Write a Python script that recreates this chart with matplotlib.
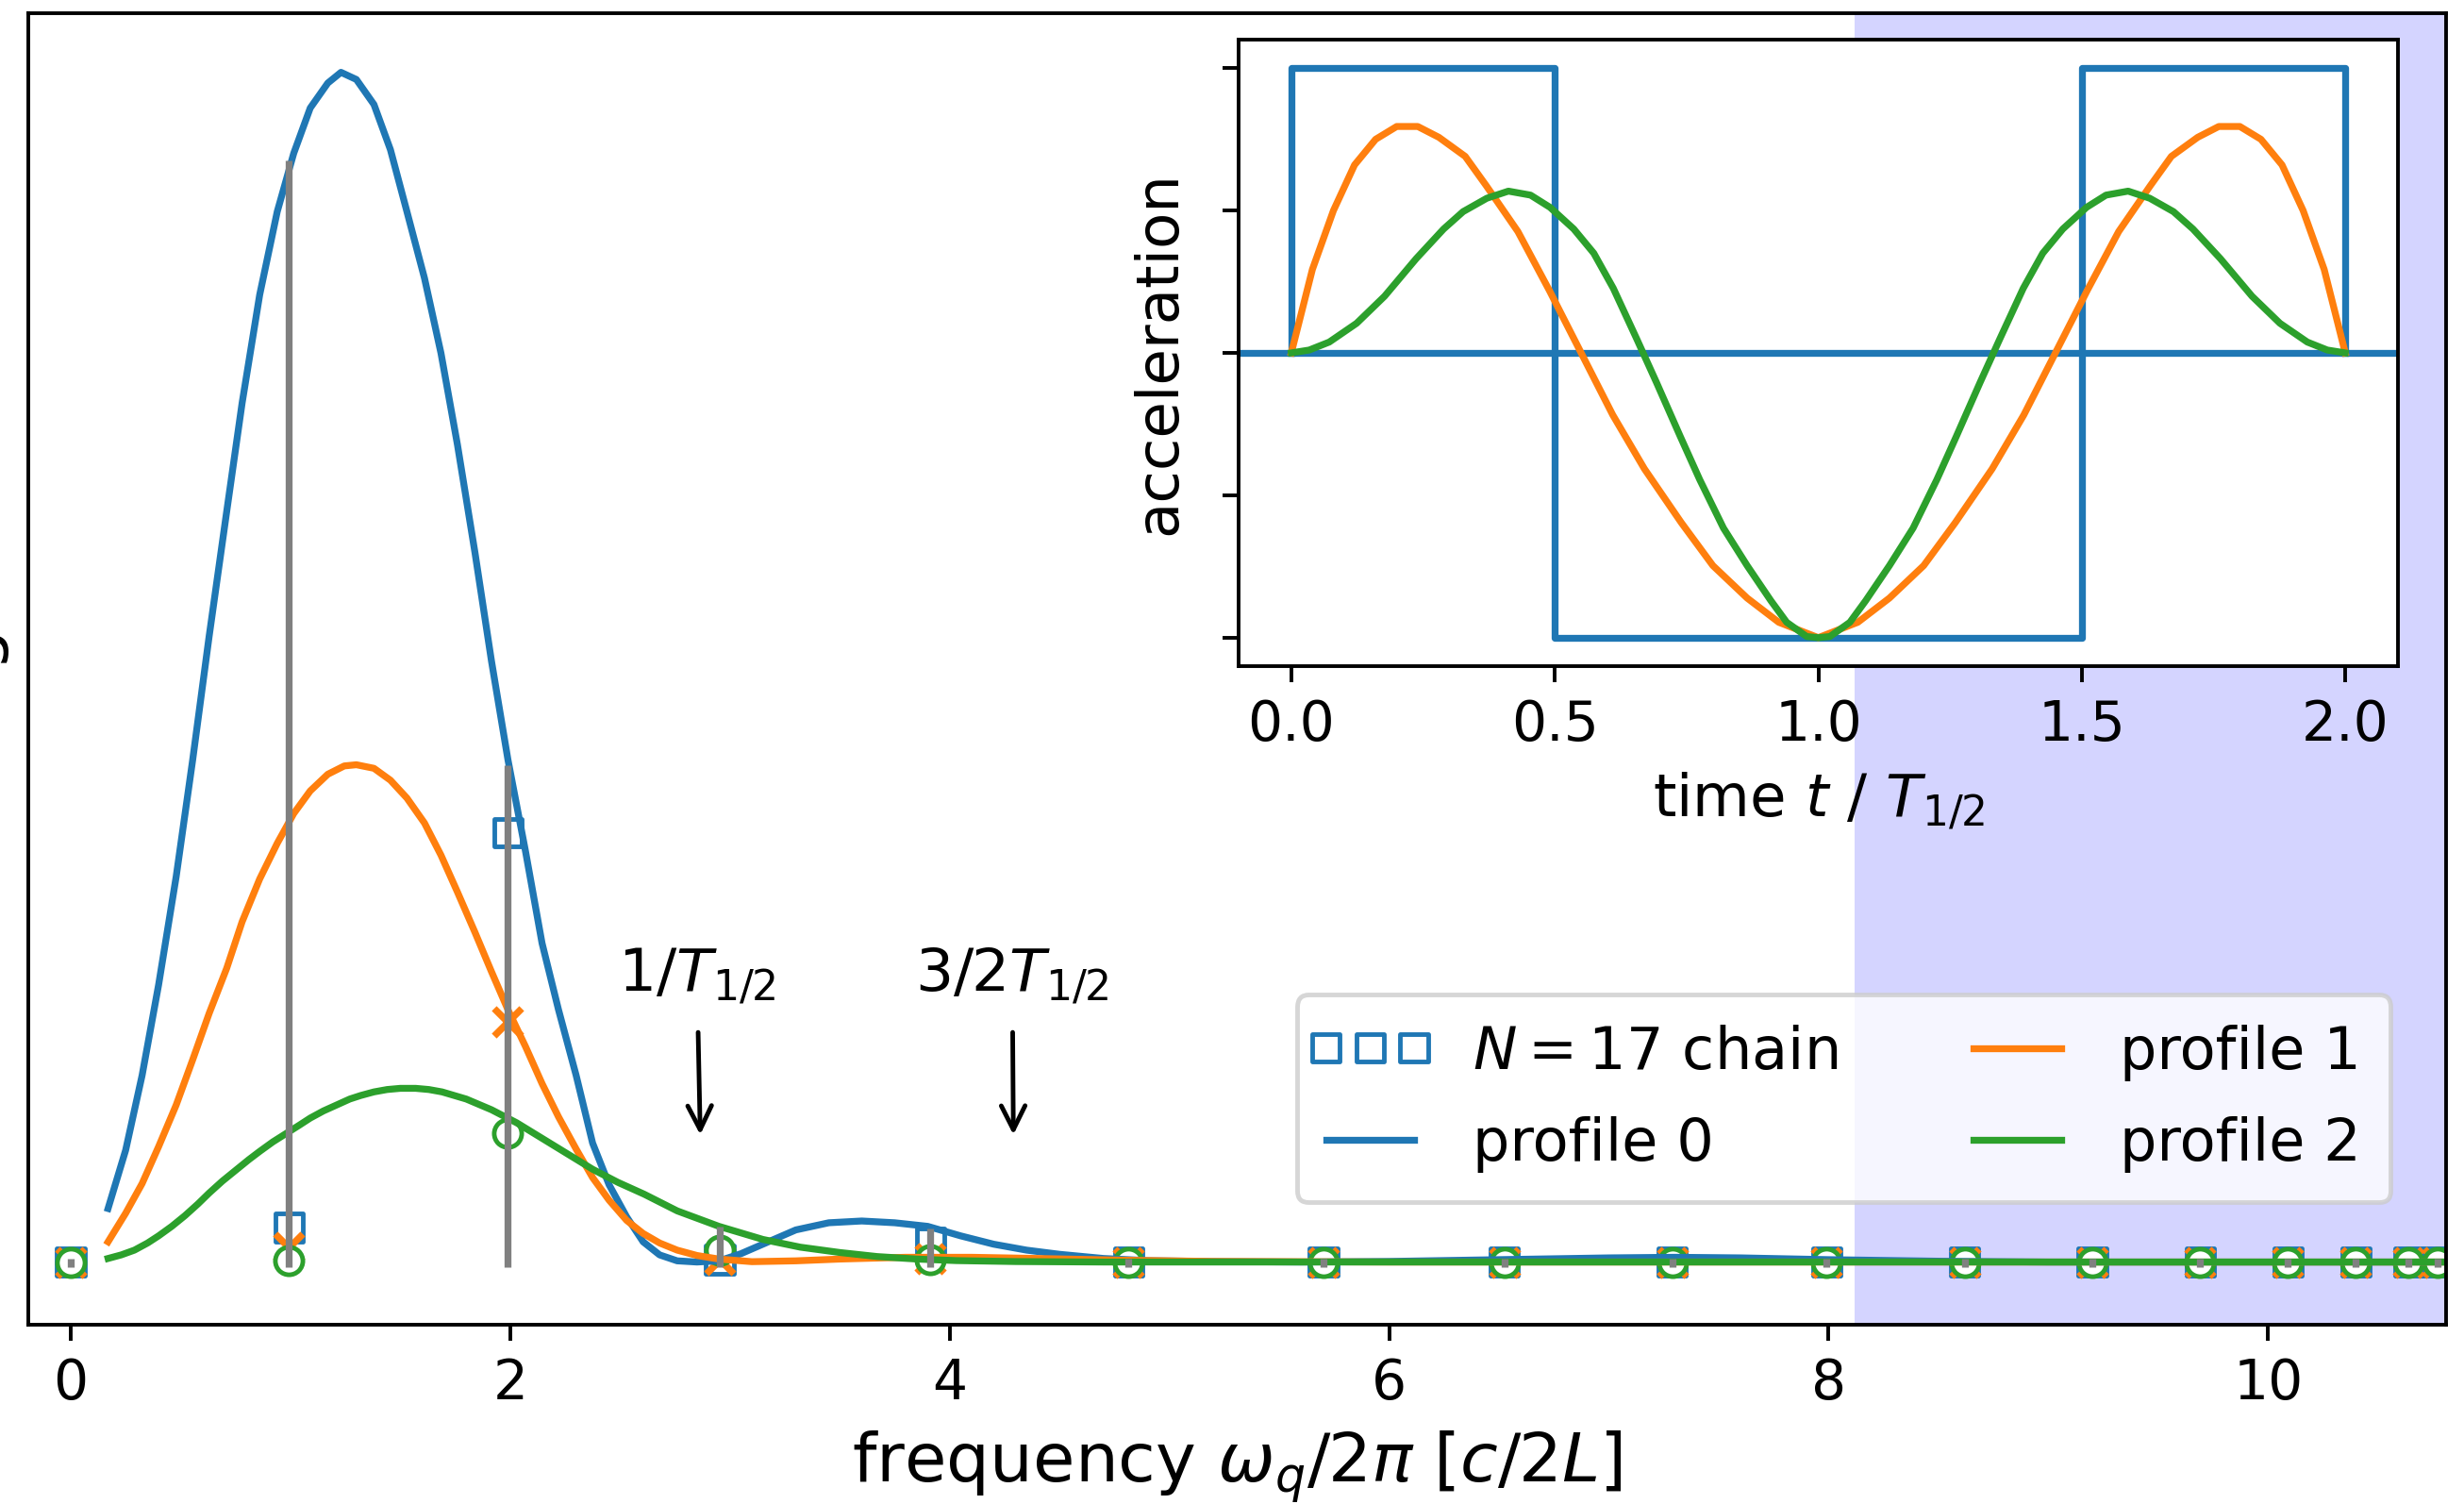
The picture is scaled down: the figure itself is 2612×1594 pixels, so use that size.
import numpy as np
import matplotlib
matplotlib.use('Agg')
from matplotlib import pyplot as plt
from matplotlib.collections import PathCollection
from matplotlib.legend_handler import HandlerPathCollection

plt.rcParams['font.size'] = 12
plt.rcParams['axes.labelsize'] = 'large'

# chain eigenfrequencies and mode weights for the three drive profiles
chain_freq = [0.0, 0.994, 1.989, 2.954, 3.913, 4.814, 5.701, 6.524, 7.289,
              7.990, 8.62, 9.20, 9.69, 10.09, 10.40, 10.64, 10.77]
chain_p0 = [0.0, 0.029, 0.361, 0.002, 0.017, 0.0, 0.0, 0.0, 0.0,
            0.0, 0.0, 0.0, 0.0, 0.0, 0.0, 0.0, 0.0]
chain_p1 = [0.0, 0.012, 0.202, 0.002, 0.003, 0.0, 0.0, 0.0, 0.0,
            0.0, 0.0, 0.0, 0.0, 0.0, 0.0, 0.0, 0.0]
chain_p2 = [0.0, 0.001, 0.108, 0.010, 0.002, 0.0, 0.0, 0.0, 0.0,
            0.0, 0.0, 0.0, 0.0, 0.0, 0.0, 0.0, 0.0]
stem_top = [0.003, 0.926, 0.418, 0.030, 0.028, 0.003, 0.003, 0.003, 0.003,
            0.003, 0.003, 0.003, 0.003, 0.003, 0.003, 0.003, 0.003]
stem_bottom = -0.004

# continuum spectra
freq0 = [0.17, 0.25, 0.325, 0.40, 0.48, 0.555, 0.63, 0.71, 0.78, 0.86, 0.94,
         1.015, 1.09, 1.17, 1.23, 1.30, 1.38, 1.455, 1.53, 1.61, 1.685, 1.76,
         1.84, 1.915, 1.99, 2.07, 2.145, 2.22, 2.30, 2.375, 2.45, 2.53, 2.605,
         2.68, 2.76, 2.85, 2.95, 3.05, 3.15, 3.3, 3.45, 3.6, 3.75, 3.9, 4.05,
         4.2, 4.35, 4.5, 4.7, 4.9, 5.2, 5.6, 6.0, 6.5, 7.0, 7.3, 7.6, 8.0, 8.5,
         9.0, 10.0, 10.9]
spec0 = [0.045, 0.094, 0.157, 0.233, 0.324, 0.422, 0.526, 0.631, 0.722, 0.813,
         0.883, 0.932, 0.970, 0.991, 1.0, 0.994, 0.973, 0.935, 0.883, 0.827,
         0.764, 0.687, 0.596, 0.505, 0.422, 0.345, 0.268, 0.212, 0.157, 0.100,
         0.065, 0.038, 0.017, 0.006, 0.001, 0.0, 0.001, 0.007, 0.015, 0.027,
         0.033, 0.0345, 0.033, 0.030, 0.022, 0.015, 0.010, 0.0065, 0.003,
         0.0012, 0.0004, 0.0, 0.0005, 0.002, 0.0035, 0.004, 0.0035, 0.002,
         0.0007, 0.0, 0.0, 0.0]

freq1 = [0.17, 0.25, 0.325, 0.40, 0.48, 0.555, 0.63, 0.71, 0.78, 0.86, 0.94,
         1.015, 1.09, 1.17, 1.245, 1.30, 1.38, 1.455, 1.53, 1.61, 1.685, 1.76,
         1.84, 1.915, 1.99, 2.07, 2.145, 2.22, 2.30, 2.375, 2.45, 2.53, 2.605,
         2.68, 2.76, 2.85, 2.95, 3.1, 3.3, 3.5, 3.8, 4.1, 4.4, 4.8, 5.2, 6.0,
         10.9]
spec1 = [0.017, 0.041, 0.066, 0.097, 0.132, 0.170, 0.209, 0.247, 0.286, 0.322,
         0.352, 0.377, 0.396, 0.410, 0.417, 0.418, 0.415, 0.405, 0.390, 0.369,
         0.342, 0.311, 0.277, 0.244, 0.212, 0.181, 0.150, 0.122, 0.095, 0.071,
         0.052, 0.035, 0.024, 0.016, 0.010, 0.0055, 0.0025, 0.0003, 0.001,
         0.0025, 0.004, 0.004, 0.003, 0.0015, 0.0005, 0.0, 0.0]

freq2 = [0.17, 0.23, 0.29, 0.35, 0.40, 0.46, 0.52, 0.58, 0.63, 0.69, 0.75,
         0.81, 0.86, 0.92, 0.98, 1.04, 1.09, 1.15, 1.21, 1.27, 1.32, 1.38,
         1.44, 1.50, 1.57, 1.63, 1.69, 1.80, 1.915, 2.03, 2.145, 2.26, 2.375,
         2.49, 2.61, 2.76, 2.95, 3.15, 3.32, 3.5, 3.67, 3.85, 4.03, 4.3, 4.7,
         10.9]
spec2 = [0.003, 0.006, 0.010, 0.016, 0.022, 0.030, 0.039, 0.049, 0.058, 0.068,
         0.077, 0.086, 0.093, 0.101, 0.108, 0.115, 0.121, 0.127, 0.132, 0.137,
         0.140, 0.143, 0.145, 0.146, 0.146, 0.145, 0.143, 0.137, 0.128, 0.117,
         0.104, 0.091, 0.078, 0.067, 0.057, 0.043, 0.030, 0.019, 0.0125,
         0.008, 0.0046, 0.0025, 0.0012, 0.0004, 0.0, 0.0]

# acceleration profiles over two half periods
t_sq = [0.0, 0.0, 0.5, 0.5, 1.5, 1.5, 2.0, 2.0]
acc_sq = [0.0, 1.0, 1.0, -1.0, -1.0, 1.0, 1.0, 0.0]

t_p1 = [0.0, 0.04, 0.08, 0.12, 0.16, 0.20, 0.24, 0.28, 0.33, 0.37, 0.43, 0.49,
        0.55, 0.61, 0.67, 0.74, 0.80, 0.865, 0.925, 1.0, 1.075, 1.135, 1.20,
        1.26, 1.33, 1.39, 1.45, 1.51, 1.57, 1.63, 1.67, 1.72, 1.76, 1.80,
        1.84, 1.88, 1.92, 1.96, 2.0]
acc_p1 = [0.0, 0.293, 0.50, 0.66, 0.75, 0.795, 0.795, 0.757, 0.69, 0.587,
          0.426, 0.218, 0.0, -0.218, -0.407, -0.596, -0.747, -0.861, -0.946,
          -1.0, -0.946, -0.861, -0.747, -0.596, -0.407, -0.218, 0.0, 0.218,
          0.426, 0.587, 0.69, 0.757, 0.795, 0.795, 0.75, 0.66, 0.50, 0.293,
          0.0]

t_p2 = [0.0, 0.034, 0.072, 0.124, 0.177, 0.237, 0.289, 0.326, 0.371, 0.412,
        0.454, 0.491, 0.536, 0.574, 0.611, 0.656, 0.693, 0.738, 0.775, 0.82,
        0.865, 0.91, 0.94, 0.978, 1.0, 1.022, 1.06, 1.09, 1.135, 1.18, 1.225,
        1.262, 1.307, 1.344, 1.389, 1.426, 1.464, 1.509, 1.546, 1.588, 1.629,
        1.674, 1.711, 1.763, 1.823, 1.876, 1.928, 1.966, 2.0]
acc_p2 = [0.0, 0.01, 0.038, 0.104, 0.199, 0.331, 0.435, 0.496, 0.543, 0.568,
          0.554, 0.511, 0.435, 0.35, 0.227, 0.047, -0.104, -0.293, -0.445,
          -0.615, -0.747, -0.87, -0.946, -0.996, -1.0, -0.996, -0.946, -0.87,
          -0.747, -0.615, -0.445, -0.293, -0.104, 0.047, 0.227, 0.35, 0.435,
          0.511, 0.554, 0.568, 0.543, 0.496, 0.435, 0.331, 0.199, 0.104,
          0.038, 0.01, 0.0]

fig = plt.figure(figsize=(2612/350, 1594/350), dpi=350)
ax = fig.add_axes([30/2612, 1-1404/1594, 2563/2612, 1390/1594])

ax.axvspan(8.12, 11.5, color='b', alpha=0.17, lw=0, zorder=0)

ax.scatter(chain_freq, chain_p0, marker='s', facecolors='none',
           edgecolors='C0', label=r'$N=17$ chain')
ax.scatter(chain_freq, chain_p1, marker='x', color='C1')
ax.scatter(chain_freq, chain_p2, marker='o', facecolors='w', edgecolors='C2')

ax.plot(freq0, spec0, color='C0', label='profile 0')
ax.plot(freq1, spec1, color='C1', label='profile 1')
ax.plot(freq2, spec2, color='C2', label='profile 2')

ax.vlines(chain_freq, stem_bottom, stem_top, color='grey', lw=1.5, zorder=3)

arrow = dict(arrowstyle='->', color='k', lw=1, shrinkA=3.7, shrinkB=0)
ax.annotate(r'$1/T_{1/2}$', xy=(2.865, 0.107), xytext=(2.85, 0.215),
            ha='center', va='bottom', fontsize=13, arrowprops=arrow)
ax.annotate(r'$3/2T_{1/2}$', xy=(4.29, 0.107), xytext=(4.285, 0.215),
            ha='center', va='bottom', fontsize=13, arrowprops=arrow)

ax.set_xlim(-0.193, 10.81)
ax.set_ylim(-0.0527, 1.0497)
ax.set_yticks([])
ax.set_xticks([0, 2, 4, 6, 8, 10])
ax.set_xlabel(r'frequency $\omega_q/2\pi$ [$c/2L$]', fontsize=14.9)
ax.set_ylabel('weight')
ax.yaxis.set_label_coords(-0.009, 0.5)

ax.legend(ncol=2, loc='lower right', bbox_to_anchor=(0.977, 0.0935),
          borderaxespad=0, borderpad=0.5, scatterpoints=3,
          scatteryoffsets=[0.5], fontsize=12.8, labelspacing=0.6,
          handlelength=1.5, handletextpad=1.0, columnspacing=2.3,
          handler_map={PathCollection: HandlerPathCollection(marker_pad=0)})

# inset with the acceleration profiles
ins = fig.add_axes([1313/2612, 1-706/1594, 1229/2612, 664/1594])
ins.set_facecolor('w')
ins.axhline(0, color='C0')
ins.plot(t_sq, acc_sq, color='C0')
ins.plot(t_p1, acc_p1, color='C1')
ins.plot(t_p2, acc_p2, color='C2')
ins.set_xlim(-0.1, 2.1)
ins.set_ylim(-1.1, 1.1)
ins.set_yticks([-1, -0.5, 0, 0.5, 1])
ins.set_yticklabels([])
ins.set_xticks([0, 0.5, 1.0, 1.5, 2.0])
ins.set_xlabel(r'time $t$ / $T_{1/2}$', fontsize=12.9)
ins.set_ylabel('acceleration', fontsize=12.9)

fig.savefig('out.png', dpi=350)
